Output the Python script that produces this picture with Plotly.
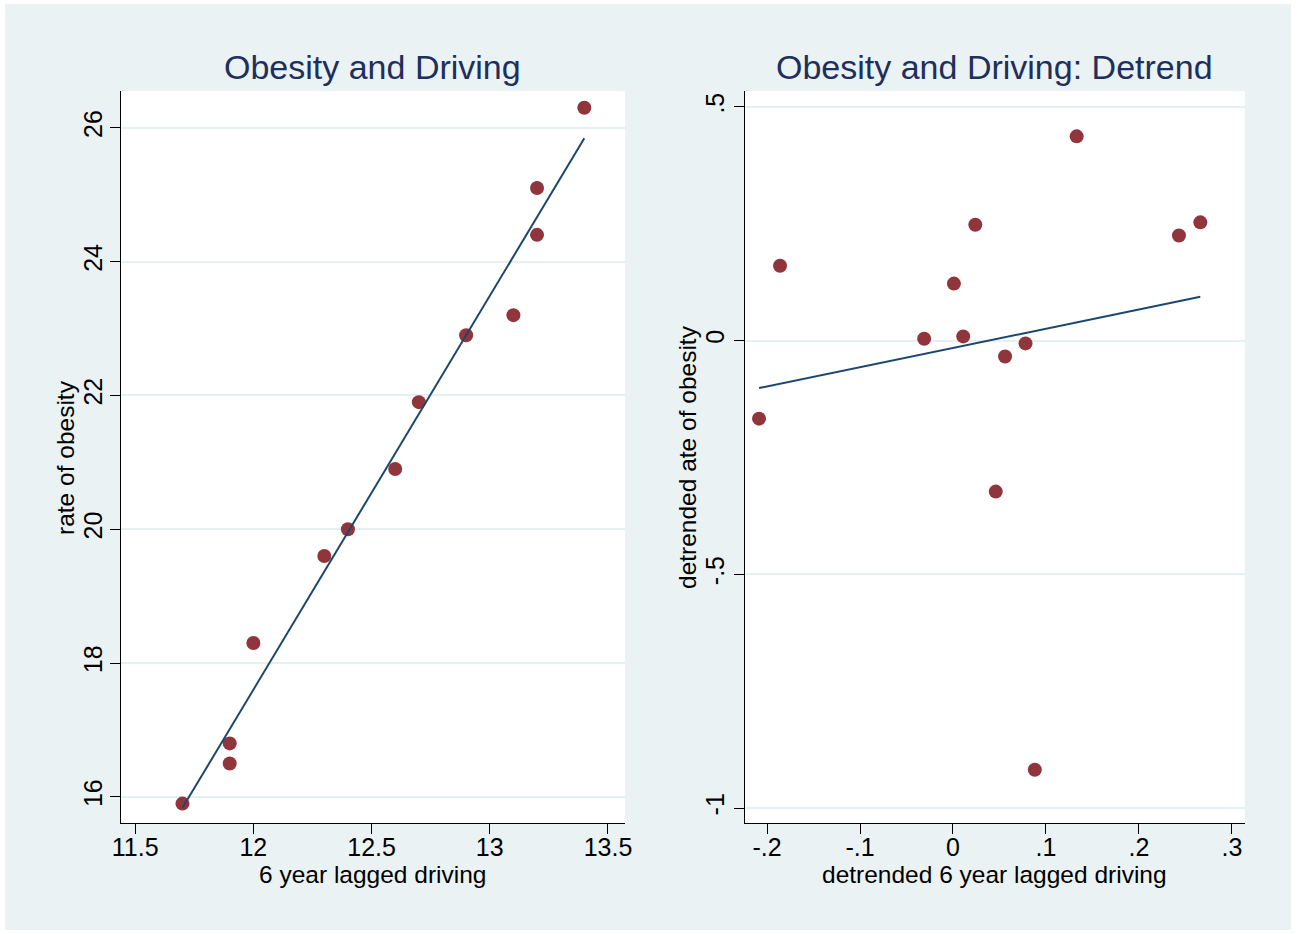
import numpy as np
import plotly.graph_objects as go

# ---------------- data ----------------
driving = [11.7, 11.9, 11.9, 12.0, 12.3, 12.4, 12.6, 12.7, 12.9, 13.1, 13.2, 13.2, 13.4]
obesity = [15.9, 16.8, 16.5, 18.3, 19.6, 20.0, 20.9, 21.9, 22.9, 23.2, 25.1, 24.4, 26.3]

dt_driving = [-0.2086, -0.186, -0.031, 0.001, 0.011, 0.024, 0.046, 0.056, 0.078, 0.088, 0.133, 0.243, 0.266]
dt_obesity = [-0.167, 0.160, 0.004, 0.122, 0.009, 0.248, -0.323, -0.034, -0.006, -0.918, 0.437, 0.225, 0.253]

left_xticks = [11.5, 12, 12.5, 13, 13.5]
left_xlabels = ["11.5", "12", "12.5", "13", "13.5"]
left_yticks = [16, 18, 20, 22, 24, 26]
left_ylabels = ["16", "18", "20", "22", "24", "26"]
right_xticks = [-0.2, -0.1, 0, 0.1, 0.2, 0.3]
right_xlabels = ["-.2", "-.1", "0", ".1", ".2", ".3"]
right_yticks = [-1, -0.5, 0, 0.5]
right_ylabels = ["-1", "-.5", "0", ".5"]

titles = ["Obesity and Driving", "Obesity and Driving: Detrend"]
xtitles = ["6 year lagged driving", "detrended 6 year lagged driving"]
ytitles = ["rate of obesity", "detrended ate of obesity"]

# ---------------- style ----------------
W, H = 1298, 934
BG = "#EAF2F3"
GRID = "#E6EFF1"
MARKER = "#90353B"
LINE = "#1A476F"
TITLE = "#1E2F5C"
FONT = "Liberation Sans, Arial, sans-serif"

# target plot areas in screen pixels (left, right, top, bottom)
L_PX = (121, 625, 91, 823)
R_PX = (745, 1245, 91, 823)

# horizontal placement correction observed for the viewer
X_OFF, X_SCALE = 9.0, 0.9877


def fx_(p):
    """screen pixel x -> paper fraction"""
    return (p - X_OFF) / X_SCALE / W


def fy_(p):
    """screen pixel y -> paper fraction"""
    return 1 - p / H


def dom(px):
    l, r, t, b = px
    return [fx_(l), fx_(r)], [fy_(b), fy_(t)]


fig = go.Figure()


def fit_line(x, y):
    x = np.asarray(x, float)
    y = np.asarray(y, float)
    m, c = np.polyfit(x, y, 1)
    xs = np.array([x.min(), x.max()])
    return xs, m * xs + c


for i, (xs, ys) in enumerate([(driving, obesity), (dt_driving, dt_obesity)]):
    xa = "x" if i == 0 else "x2"
    ya = "y" if i == 0 else "y2"
    lx, ly = fit_line(xs, ys)
    fig.add_trace(go.Scatter(x=xs, y=ys, mode="markers", xaxis=xa, yaxis=ya,
                             marker=dict(color=MARKER, size=14, line=dict(width=0)),
                             showlegend=False, hoverinfo="x+y"))
    fig.add_trace(go.Scatter(x=lx, y=ly, mode="lines", xaxis=xa, yaxis=ya,
                             line=dict(color=LINE, width=2),
                             showlegend=False, hoverinfo="skip"))

axis_common = dict(showline=True, linecolor="#000000", linewidth=1.3,
                   ticks="outside", ticklen=10, tickwidth=1.3, tickcolor="#000000",
                   tickfont=dict(family=FONT, size=25, color="#000000"),
                   zeroline=False)

lxd, lyd = dom(L_PX)
rxd, ryd = dom(R_PX)

fig.update_layout(
    xaxis=dict(domain=lxd, range=[11.44, 13.572], tickvals=left_xticks, ticktext=left_xlabels,
               showgrid=False, anchor="y", ticklabelstandoff=-8, **axis_common),
    yaxis=dict(domain=lyd, range=[15.61, 26.55], tickvals=left_yticks, ticktext=left_ylabels,
               showgrid=True, gridcolor=GRID, gridwidth=2, tickangle=-90, anchor="x",
               ticklabelstandoff=-2, **axis_common),
    xaxis2=dict(domain=rxd, range=[-0.2237, 0.314], tickvals=right_xticks, ticktext=right_xlabels,
                showgrid=False, anchor="y2", ticklabelstandoff=-8, **axis_common),
    yaxis2=dict(domain=ryd, range=[-1.032, 0.534], tickvals=right_yticks, ticktext=right_ylabels,
                showgrid=True, gridcolor=GRID, gridwidth=2, tickangle=-90, anchor="x2",
                ticklabelstandoff=0, **axis_common),
)

shapes = [dict(type="rect", xref="paper", yref="paper", x0=fx_(5), x1=fx_(1291),
               y0=fy_(930), y1=fy_(4), fillcolor=BG, line=dict(width=0), layer="below")]
for px in (L_PX, R_PX):
    xd, yd = dom(px)
    shapes.append(dict(type="rect", xref="paper", yref="paper", x0=xd[0], x1=xd[1],
                       y0=yd[0], y1=yd[1], fillcolor="#FFFFFF", line=dict(width=0), layer="below"))

annotations = []
for px, t, xt, yt, ytx in ((L_PX, titles[0], xtitles[0], ytitles[0], 66),
                           (R_PX, titles[1], xtitles[1], ytitles[1], 688)):
    l, r, tp, b = px
    cx = fx_((l + r) / 2)
    annotations.append(dict(text=t, x=cx, y=fy_(67), xref="paper", yref="paper",
                            xanchor="center", yanchor="middle", showarrow=False,
                            font=dict(family=FONT, size=34, color=TITLE)))
    annotations.append(dict(text=xt, x=cx, y=fy_(874), xref="paper", yref="paper",
                            xanchor="center", yanchor="middle", showarrow=False,
                            font=dict(family=FONT, size=24.5, color="#000000")))
    annotations.append(dict(text=yt, x=fx_(ytx), y=fy_((tp + b) / 2), xref="paper", yref="paper",
                            xanchor="center", yanchor="middle", showarrow=False, textangle=-90,
                            font=dict(family=FONT, size=24.5, color="#000000")))

fig.update_layout(
    width=W, height=H,
    autosize=False,
    margin=dict(l=0, r=0, t=0, b=0),
    paper_bgcolor="#FFFFFF",
    plot_bgcolor="rgba(0,0,0,0)",
    shapes=shapes,
    annotations=annotations,
    font=dict(family=FONT),
)

fig.write_html(
    "out.html",
    config={"displayModeBar": False, "responsive": False},
    post_script="document.body.style.margin='0px';document.body.style.overflow='hidden';",
)
